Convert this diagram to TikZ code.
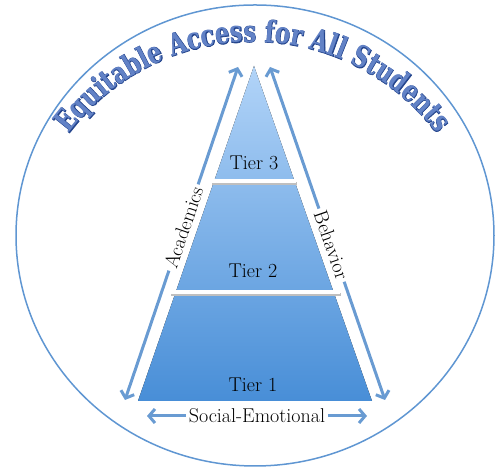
\documentclass[tikz,border=0pt]{standalone}
\usepackage{fontspec}
\newfontfamily\titlefont{DejaVu Serif Bold}[FakeStretch=0.76]
\newfontfamily\titleedge{DejaVu Serif Bold}[FakeStretch=0.76,FakeBold=2.5]
\usetikzlibrary{arrows.meta, calc, decorations.text}

\definecolor{ringblue}{RGB}{95,150,210}
\definecolor{arrowblue}{RGB}{105,155,210}
\definecolor{pyrtop}{RGB}{178,212,248}
\definecolor{pyrbot}{RGB}{72,142,215}
\definecolor{ttlfill}{RGB}{98,130,198}
\definecolor{ttledge}{RGB}{35,68,140}

\begin{document}
\begin{tikzpicture}[x=1pt, y=1pt,
  lbl/.style={font=\fontsize{20}{22}\selectfont, inner sep=3pt},
  arr/.style={draw=arrowblue, line width=3pt, -{Straight Barb[length=6pt,width=14pt]}},
  tierline/.style={white, line width=4pt},
  tiershadow/.style={black!25, line width=3pt},
  titletext/.style 2 args={decorate, decoration={text along path, text align=center,
    text color=#1, text={|#2\fontsize{30}{32}\selectfont|Equitable Access for All Students}}}]
\useasboundingbox (0,0) rectangle (496,470);

% Outer ring
\draw[ringblue, line width=1.5pt] (255,234.5) ellipse [x radius=239, y radius=230.5];

% Title along the ring
\path[titletext={ttledge}{\titleedge}] (253,198) ++(149:230) arc[start angle=149, end angle=31, radius=230];
\path[titletext={ttlfill}{\titlefont}] (253,198) ++(149:230) arc[start angle=149, end angle=31, radius=230];

% Pyramid
\coordinate (apex) at (254,404);
\coordinate (bl) at (138,69);
\coordinate (br) at (372,69);
\fill[top color=pyrtop, bottom color=pyrbot] (bl) -- (apex) -- (br) -- cycle;

% Tier dividers
\draw[tiershadow] (212,286.5) -- (297,286.5);
\draw[tierline] (212,289) -- (296,289);
\draw[tiershadow] (171,175.5) -- (341,175.5);
\draw[tierline] (171,178) -- (340,178);

% Tier labels
\node[lbl] (tier3) at (254,307) {Tier 3};
\node[lbl] (tier2) at (253,199) {Tier 2};
\node[lbl] (tier1) at (253,85) {Tier 1};

% Side arrows
\coordinate (acB) at (125,70);
\coordinate (acT) at (238,403);
\coordinate (beB) at (385,70);
\coordinate (beT) at (270,403);
\node[lbl, rotate=71.3] (acad) at ($(acB)!0.518!(acT)$) {Academics};
\node[lbl, rotate=-70.95] (behav) at ($(beB)!0.465!(beT)$) {Behavior};
\draw[arr] (acad) -- (acT);
\draw[arr] (acad) -- (acB);
\draw[arr] (behav) -- (beT);
\draw[arr] (behav) -- (beB);

% Bottom arrow
\coordinate (seL) at (147,54);
\coordinate (seR) at (367,54);
\node[lbl] (social) at (257,54) {Social-Emotional};
\draw[arr] (social) -- (seL);
\draw[arr] (social) -- (seR);
\end{tikzpicture}
\end{document}
